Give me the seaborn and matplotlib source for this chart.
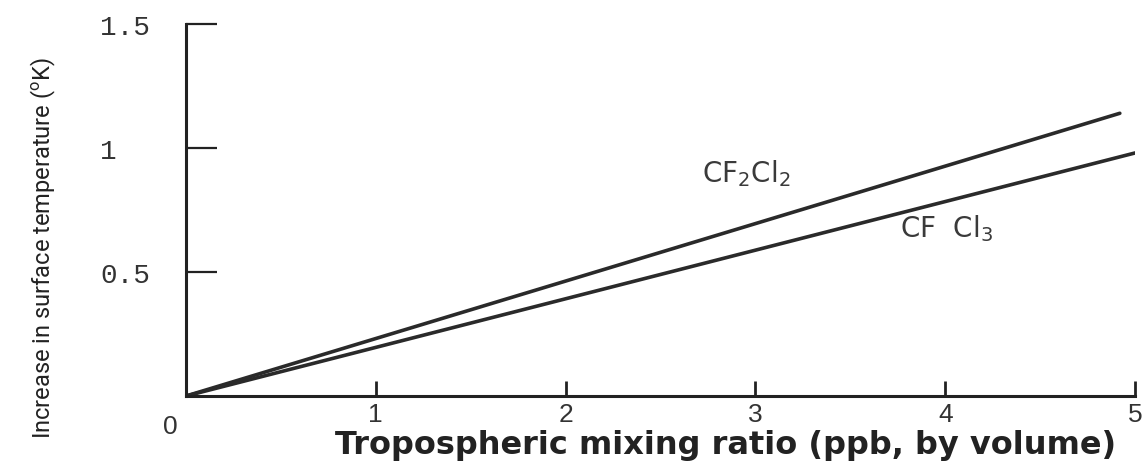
import matplotlib
matplotlib.use("Agg")
import matplotlib.pyplot as plt
import seaborn as sns
import pandas as pd

# ---- data ----
mixing_ratio_cf2cl2 = [0.0, 4.92]
temp_cf2cl2 = [0.0, 1.14]
mixing_ratio_cfcl3 = [0.0, 5.0]
temp_cfcl3 = [0.0, 0.98]

x_ticks = [1, 2, 3, 4, 5]
x_tick_labels = ["1", "2", "3", "4", "5"]
y_ticks = [0.5, 1.0, 1.5]
y_tick_labels = ["0.5", "1", "1.5"]

series_names = ["CF$_2$Cl$_2$", "CF  Cl$_3$"]

sns.set_theme(style="white")
plt.rcParams["mathtext.default"] = "regular"
plt.rcParams["font.family"] = ["DejaVu Sans"]

df = pd.concat([
    pd.DataFrame({"x": mixing_ratio_cf2cl2, "y": temp_cf2cl2, "s": "CF2Cl2"}),
    pd.DataFrame({"x": mixing_ratio_cfcl3, "y": temp_cfcl3, "s": "CFCl3"}),
])

W, H = 1144, 464
fig = plt.figure(figsize=(W / 100, H / 100), dpi=100)
x0, x5 = 186, 1135
y0, y15 = 397, 25
ax = fig.add_axes([x0 / W, (H - y0) / H, (x5 - x0) / W, (y0 - y15) / H])

sns.lineplot(data=df, x="x", y="y", hue="s", palette=["#2a2a2a", "#2a2a2a"],
             linewidth=2.6, legend=False, ax=ax, estimator=None, sort=False)

ax.set_xlim(0, 5)
ax.set_ylim(0, 1.5)
for s in ["top", "right"]:
    ax.spines[s].set_visible(False)
for s in ["left", "bottom"]:
    ax.spines[s].set_color("#222222")
    ax.spines[s].set_linewidth(2.2)

ax.set_xticks(x_ticks)
ax.set_xticklabels(x_tick_labels, fontsize=19, color="#333333",
                   family="Liberation Sans")
ax.set_yticks(y_ticks)
ax.set_yticklabels(y_tick_labels, fontsize=20, color="#333333",
                   family="Liberation Mono")
ax.tick_params(axis="x", direction="in", length=11, width=2, color="#222222",
               pad=4, bottom=True)
ax.tick_params(axis="y", direction="in", length=22, width=1.6, color="#222222",
               pad=62, left=True)
for lab in ax.get_yticklabels():
    lab.set_horizontalalignment("left")

ax.annotate("0", xy=(0, 0), xytext=(-11, -13), textcoords="offset points",
            ha="center", va="top", fontsize=19, color="#333333",
            family="Liberation Sans")

ax.set_xlabel("Tropospheric mixing ratio (ppb, by volume)", fontsize=23,
              fontweight="bold", color="#222222")
ax.xaxis.set_label_coords((726 - x0) / (x5 - x0), -0.09)
ax.xaxis.label.set_verticalalignment("top")

ax.set_ylabel("Increase in surface temperature ($^o$K)", fontsize=17,
              color="#222222", family=["Roboto", "DejaVu Sans"])
ax.yaxis.set_label_coords((58 - x0) / (x5 - x0), (y0 - 248) / (y0 - y15))

ax.text(2.72, 0.90, series_names[0], fontsize=20, color="#3a3a3a",
        va="center", ha="left")
ax.text(3.76, 0.68, series_names[1], fontsize=20, color="#3a3a3a",
        va="center", ha="left")

fig.savefig("out.png", dpi=100)
